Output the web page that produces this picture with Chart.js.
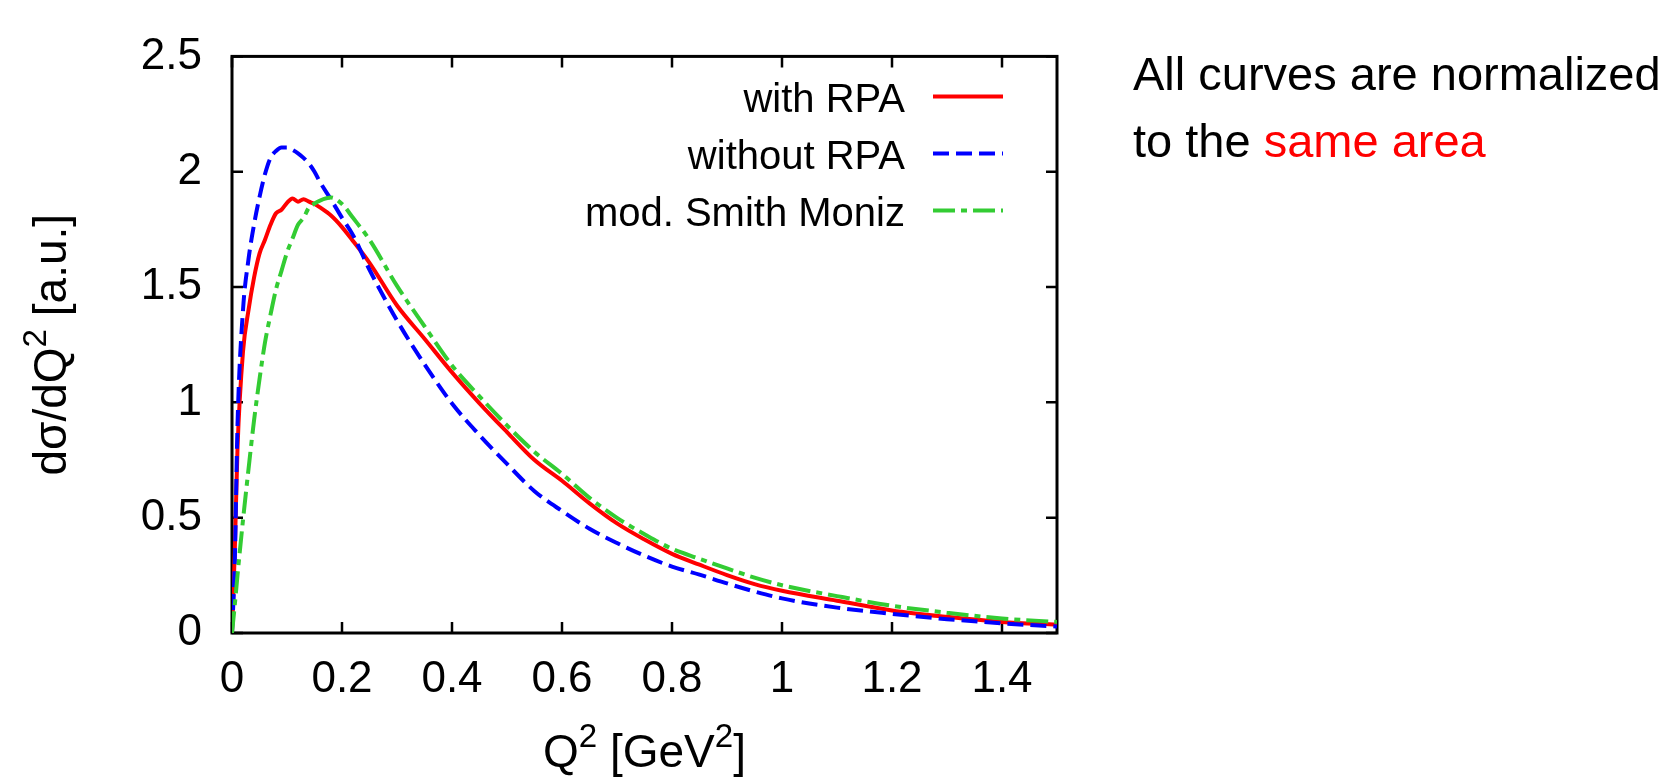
<!DOCTYPE html>
<html>
<head>
<meta charset="utf-8">
<script src="https://cdn.jsdelivr.net/npm/chart.js@4.4.1/dist/chart.umd.min.js"></script>
<style>
  html, body { margin: 0; padding: 0; background: #fff; }
  #wrap { position: relative; width: 1668px; height: 777px; }
  #note {
    position: absolute; left: 1133px; top: 40px;
    font: 47px "Liberation Sans", Arial, sans-serif;
    line-height: 67px; color: #000; white-space: nowrap;
  }
  #note .hl { color: #ff0000; }
</style>
</head>
<body>
<div id="wrap">
  <canvas id="myChart" width="1668" height="777"></canvas>
  <div id="note">All curves are normalized<br>to the <span class="hl">same area</span></div>
</div>
<script>
// Q^2 grid [GeV^2]
const q2 = [0, 0.005, 0.01, 0.02, 0.03, 0.04, 0.05, 0.06, 0.07, 0.08, 0.09, 0.1,
  0.11, 0.12, 0.13, 0.14, 0.15, 0.16, 0.18, 0.2, 0.22, 0.25, 0.3, 0.35, 0.4, 0.45,
  0.5, 0.55, 0.6, 0.65, 0.7, 0.75, 0.8, 0.85, 0.9, 0.95, 1.0, 1.1, 1.2, 1.3, 1.4, 1.5];

const withRPA = [0, 0.35, 0.80, 1.22, 1.40, 1.54, 1.645, 1.705, 1.77, 1.82, 1.835, 1.865,
  1.884, 1.87, 1.881, 1.87, 1.86, 1.845, 1.81, 1.76, 1.70, 1.605, 1.42, 1.276, 1.13, 0.996,
  0.871, 0.75, 0.66, 0.562, 0.475, 0.405, 0.343, 0.296, 0.251, 0.212, 0.183, 0.14, 0.098, 0.07, 0.048, 0.036];

const withoutRPA = [0, 0.3, 0.9, 1.40, 1.62, 1.77, 1.89, 1.99, 2.06, 2.09, 2.105, 2.105,
  2.095, 2.08, 2.06, 2.035, 2.00, 1.955, 1.88, 1.80, 1.725, 1.575, 1.355, 1.165, 0.995, 0.858,
  0.733, 0.615, 0.529, 0.452, 0.39, 0.335, 0.288, 0.253, 0.215, 0.18, 0.15, 0.11, 0.083, 0.06, 0.042, 0.028];

const smithMoniz = [0, 0.12, 0.25, 0.49, 0.71, 0.92, 1.10, 1.26, 1.38, 1.49, 1.57, 1.65,
  1.71, 1.77, 1.80, 1.845, 1.862, 1.875, 1.888, 1.86, 1.80, 1.705, 1.505, 1.33, 1.16, 1.026,
  0.90, 0.785, 0.69, 0.586, 0.499, 0.428, 0.365, 0.322, 0.28, 0.24, 0.207, 0.16, 0.118, 0.088, 0.063, 0.048];

const seriesNames = ['with RPA', 'without RPA', 'mod. Smith Moniz'];
const xTicks = [0, 0.2, 0.4, 0.6, 0.8, 1, 1.2, 1.4];
const yTicks = [0, 0.5, 1, 1.5, 2, 2.5];

const FONT = '"Liberation Sans", Arial, sans-serif';

function pts(vals) {
  return q2.map((q, i) => ({ x: q, y: vals[i] }));
}

// text with superscript parts, e.g. Q^2
function partsWidth(ctx, parts, size) {
  let w = 0;
  parts.forEach(p => {
    ctx.font = (p.sup ? size * 0.72 : size) + 'px ' + FONT;
    w += ctx.measureText(p.t).width;
  });
  return w;
}
function drawParts(ctx, parts, x, y, size) {
  let cx = x;
  parts.forEach(p => {
    ctx.font = (p.sup ? size * 0.72 : size) + 'px ' + FONT;
    ctx.fillText(p.t, cx, p.sup ? y - size * 0.43 : y);
    cx += ctx.measureText(p.t).width;
  });
}

const xTitle = [{ t: 'Q' }, { t: '2', sup: true }, { t: ' [GeV' }, { t: '2', sup: true }, { t: ']' }];
const yTitle = [{ t: 'dσ/dQ' }, { t: '2', sup: true }, { t: ' [a.u.]' }];

const framePlugin = {
  id: 'frame',
  beforeDatasetsDraw(chart) {
    const { ctx, chartArea: a, scales: { x, y } } = chart;
    ctx.save();
    ctx.strokeStyle = '#000';
    ctx.lineWidth = 3;
    ctx.strokeRect(a.left, a.top, a.right - a.left, a.bottom - a.top);
    ctx.lineWidth = 2.5;
    const tl = 11;
    ctx.beginPath();
    x.ticks.forEach(t => {
      const px = x.getPixelForValue(t.value);
      ctx.moveTo(px, a.bottom); ctx.lineTo(px, a.bottom - tl);
      ctx.moveTo(px, a.top); ctx.lineTo(px, a.top + tl);
    });
    y.ticks.forEach(t => {
      const py = y.getPixelForValue(t.value);
      ctx.moveTo(a.left, py); ctx.lineTo(a.left + tl, py);
      ctx.moveTo(a.right, py); ctx.lineTo(a.right - tl, py);
    });
    ctx.stroke();

    // axis titles
    ctx.fillStyle = '#000';
    ctx.textAlign = 'left';
    ctx.textBaseline = 'alphabetic';
    const size = 46;
    const cx = (a.left + a.right) / 2;
    const wx = partsWidth(ctx, xTitle, size);
    drawParts(ctx, xTitle, cx - wx / 2, 767, size);

    const cy = (a.top + a.bottom) / 2;
    const wy = partsWidth(ctx, yTitle, size);
    ctx.translate(66, cy);
    ctx.rotate(-Math.PI / 2);
    drawParts(ctx, yTitle, -wy / 2, 0, size);
    ctx.restore();
  }
};

const keyPlugin = {
  id: 'key',
  afterDraw(chart) {
    const { ctx, chartArea: a } = chart;
    ctx.save();
    chart.data.datasets.forEach((ds, i) => {
      const ly = a.top + 40 + i * 57;
      ctx.font = '40px ' + FONT;
      ctx.textAlign = 'right';
      ctx.textBaseline = 'alphabetic';
      ctx.fillStyle = '#000';
      ctx.fillText(ds.label, a.right - 152, ly + 16);
      ctx.strokeStyle = ds.borderColor;
      ctx.lineWidth = ds.borderWidth;
      ctx.setLineDash(ds.borderDash || []);
      ctx.beginPath();
      ctx.moveTo(a.right - 124, ly);
      ctx.lineTo(a.right - 54, ly);
      ctx.stroke();
    });
    ctx.restore();
  }
};

let ctxQ = document.getElementById('myChart');
let myChart = new Chart(ctxQ, {
  type: 'line',
  data: {
    datasets: [{
      label: seriesNames[0],
      data: pts(withRPA),
      borderColor: '#ff0000',
      borderWidth: 4,
      order: 3
    }, {
      label: seriesNames[1],
      data: pts(withoutRPA),
      borderColor: '#0000ff',
      borderWidth: 4,
      borderDash: [16, 7],
      order: 2
    }, {
      label: seriesNames[2],
      data: pts(smithMoniz),
      borderColor: '#33cc33',
      borderWidth: 4,
      borderDash: [22, 6, 6, 6],
      order: 1
    }]
  },
  options: {
    responsive: false,
    animation: false,
    devicePixelRatio: 1,
    elements: {
      point: { radius: 0 },
      line: { cubicInterpolationMode: 'monotone', fill: false }
    },
    layout: { padding: { top: 27, right: 611, left: 0, bottom: 0 } },
    plugins: { legend: { display: false }, tooltip: { enabled: false } },
    scales: {
      x: {
        type: 'linear',
        min: 0, max: 1.5,
        afterBuildTicks: s => { s.ticks = xTicks.map(v => ({ value: v })); },
        afterFit: s => { s.height = 144; },
        grid: { display: false, drawTicks: false },
        border: { display: false },
        ticks: {
          color: '#000', padding: 20, maxRotation: 0,
          font: { family: FONT, size: 44 },
          callback: v => String(+v.toFixed(1))
        }
      },
      y: {
        min: 0, max: 2.5,
        afterBuildTicks: s => { s.ticks = yTicks.map(v => ({ value: v })); },
        afterFit: s => { s.width = 232; },
        grid: { display: false, drawTicks: false },
        border: { display: false },
        ticks: {
          color: '#000', padding: 30,
          font: { family: FONT, size: 44 },
          callback: v => String(+v.toFixed(1))
        }
      }
    }
  },
  plugins: [framePlugin, keyPlugin]
});
</script>
</body>
</html>
